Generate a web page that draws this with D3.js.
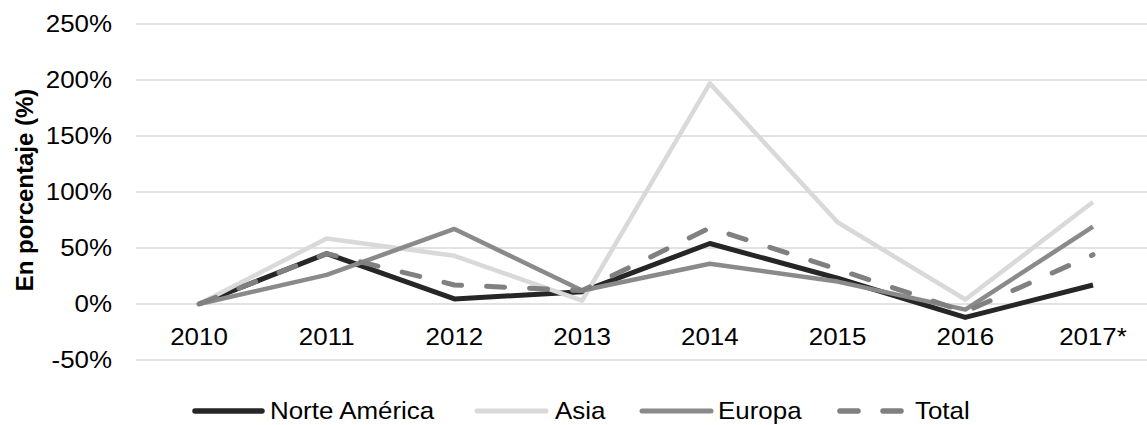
<!DOCTYPE html>
<html><head><meta charset="utf-8">
<script src="https://cdn.jsdelivr.net/npm/d3@7"></script>
<style>body{margin:0;background:#fff}svg{display:block}text{font-family:"Liberation Sans",Arial,sans-serif}</style>
</head><body><svg id="c" width="1147" height="425"></svg>
<script>
const categories = ["2010","2011","2012","2013","2014","2015","2016","2017*"];
const norteAmerica = [0, 45, 4.5, 11, 54, 23, -12, 17];
const asia = [0, 58.5, 43, 3, 197, 73, 4, 91];
const europa = [0, 26, 67, 12, 36, 20, -5, 69];
const total = [0, 45, 17, 12, 68, 31, -7, 44];
const yTicks = [-50, 0, 50, 100, 150, 200, 250];
const seriesNames = ["Norte América","Asia","Europa","Total"];

const series = [
  {name: seriesNames[0], values: norteAmerica, color: "#262626", width: 5, dash: null},
  {name: seriesNames[1], values: asia, color: "#d9d9d9", width: 4.5, dash: null},
  {name: seriesNames[2], values: europa, color: "#8a8a8a", width: 4.5, dash: null},
  {name: seriesNames[3], values: total, color: "#808080", width: 5, dash: "18,25"}
];

const svg = d3.select("#c");
const sx = 1.08;
const x = d3.scalePoint().domain(categories).range([199, 1093]);
const y = d3.scaleLinear().domain([-50, 250]).range([360, 24]);

// gridlines
svg.append("g").selectAll("line").data(yTicks).join("line")
  .attr("x1", 136).attr("x2", 1157)
  .attr("y1", d => y(d)).attr("y2", d => y(d))
  .attr("stroke", "#d9d9d9").attr("stroke-width", 1.5);

// y tick labels
svg.append("g").selectAll("text").data(yTicks).join("text")
  .attr("transform", d => `translate(112,${y(d)}) scale(${sx},1)`)
  .attr("text-anchor", "end").attr("dy", "0.35em")
  .attr("font-size", 24).attr("fill", "#000")
  .text(d => d + "%");

// x labels
svg.append("g").selectAll("text").data(categories).join("text")
  .attr("transform", d => `translate(${x(d)},337) scale(${sx},1)`)
  .attr("text-anchor", "middle").attr("dy", "0.35em")
  .attr("font-size", 24).attr("fill", "#000")
  .text(d => d);

// y title
svg.append("text")
  .attr("transform", "translate(25,190) rotate(-90)")
  .attr("text-anchor", "middle").attr("dy", "0.35em")
  .attr("font-size", 24).attr("font-weight", "bold").attr("fill", "#000")
  .text("En porcentaje (%)");

const line = d3.line().x((d, i) => x(categories[i])).y(d => y(d));
svg.append("g").selectAll("path").data(series).join("path")
  .attr("d", d => line(d.values))
  .attr("fill", "none")
  .attr("stroke", d => d.color)
  .attr("stroke-width", d => d.width)
  .attr("stroke-linejoin", "round")
  .attr("stroke-linecap", d => d.dash ? "round" : "butt")
  .attr("stroke-dasharray", d => d.dash);

// legend
const legendPos = [
  {lx1: 195, lx2: 262, tx: 270},
  {lx1: 477, lx2: 546, tx: 555},
  {lx1: 642, lx2: 711, tx: 718},
  {lx1: 840, lx2: 902, tx: 915}
];
const lg = svg.append("g").selectAll("g").data(series).join("g");
lg.append("line")
  .attr("x1", (d, i) => legendPos[i].lx1).attr("x2", (d, i) => legendPos[i].lx2)
  .attr("y1", 411).attr("y2", 411)
  .attr("stroke", d => d.color).attr("stroke-width", d => d.width + 0.5)
  .attr("stroke-linecap", "round")
  .attr("stroke-dasharray", d => d.dash);
lg.append("text")
  .attr("transform", (d, i) => `translate(${legendPos[i].tx},411) scale(${sx},1)`)
  .attr("dy", "0.35em").attr("font-size", 24).attr("fill", "#000")
  .text(d => d.name);
</script></body></html>
